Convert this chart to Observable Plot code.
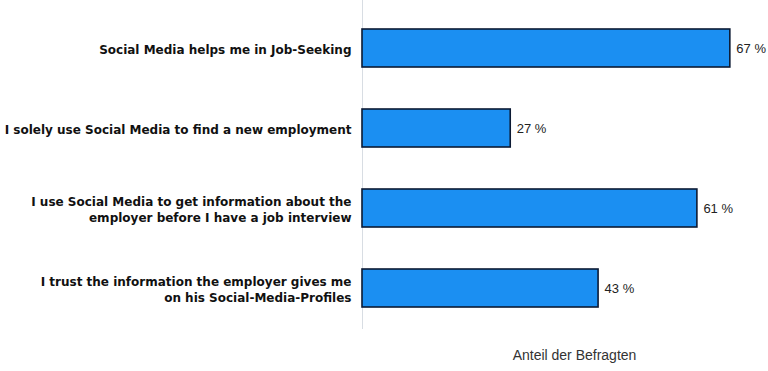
<!DOCTYPE html>
<html>
<head>
<meta charset="utf-8">
<script src="https://cdn.jsdelivr.net/npm/d3@7"></script>
<script src="https://cdn.jsdelivr.net/npm/@observablehq/plot@0.6"></script>
<style>
  html, body { margin: 0; padding: 0; background: #fff; }
  #chart svg { display: block; }
</style>
</head>
<body>
<div id="chart"></div>
<script>
const categories = [
  "Social Media helps me in Job-Seeking",
  "I solely use Social Media to find a new employment",
  "I use Social Media to get information about the\nemployer before I have a job interview",
  "I trust the information the employer gives me\non his Social-Media-Profiles"
];
const values = [67, 27, 61, 43];
const axisLabel = "Anteil der Befragten";

const data = categories.map((c, i) => ({category: c, value: values[i]}));

const chart = Plot.plot({
  width: 768,
  height: 371,
  marginLeft: 362,
  marginRight: 0,
  marginTop: 0,
  marginBottom: 42,
  style: {fontFamily: "'Liberation Sans', Arial, sans-serif", background: "#fff"},
  x: {domain: [0, 100], range: [362, 911], axis: null},
  y: {domain: categories, range: [7, 329], paddingInner: 0.52, paddingOuter: 0.26, label: null},
  marks: [
    Plot.ruleX([0], {stroke: "#d8dde3", strokeWidth: 1}),
    Plot.barX(data, {
      y: "category", x: "value",
      fill: "#1b8ff2", stroke: "#0c1a33", strokeWidth: 1.6
    }),
    Plot.text(data, {
      y: "category", x: "value",
      text: d => `${d.value} %`,
      textAnchor: "start", dx: 6, fontSize: 13, fill: "#222"
    }),
    Plot.axisY({
      tickSize: 0, tickPadding: 11, fontSize: 12, fontWeight: "bold",
      fontFamily: "'DejaVu Sans', sans-serif",
      fill: "#111", lineHeight: 1.38, label: null
    }),
    Plot.text([axisLabel], {
      frameAnchor: "bottom", dy: 30, dx: 9, fontSize: 14, fill: "#333"
    })
  ]
});
document.getElementById("chart").appendChild(chart);
</script>
</body>
</html>
